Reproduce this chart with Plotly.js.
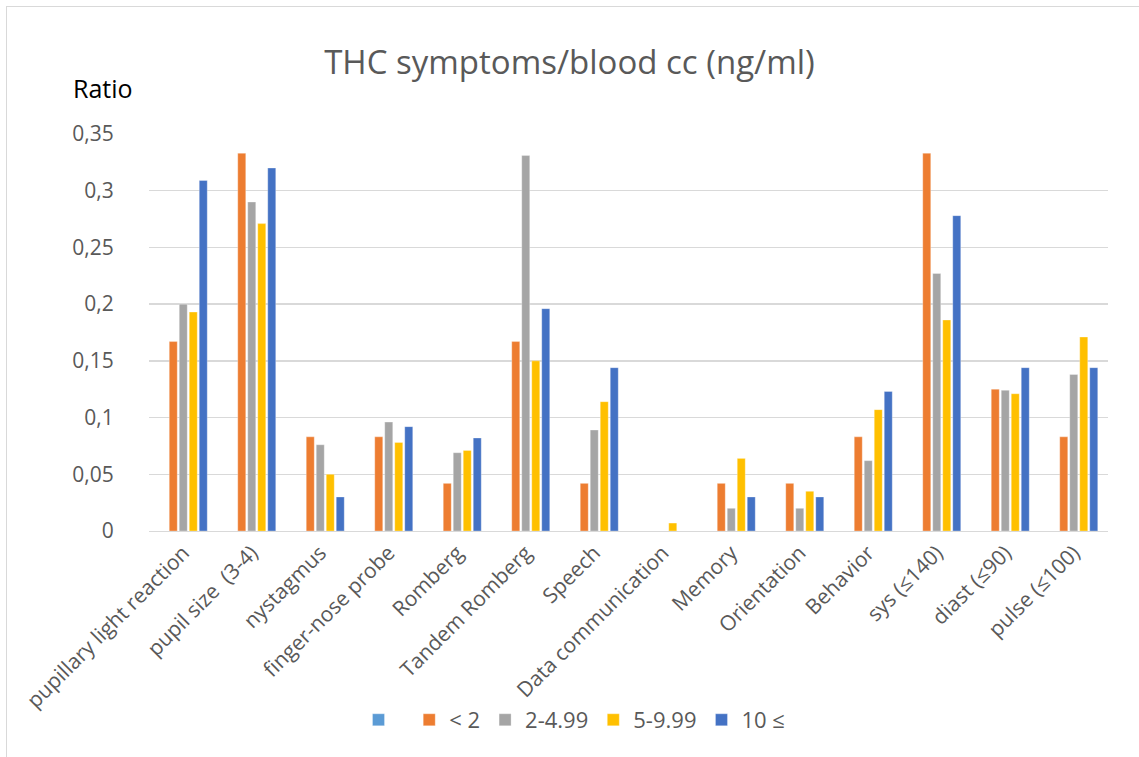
<!DOCTYPE html>
<html>
<head>
<meta charset="utf-8">
<script src="https://cdn.plot.ly/plotly-3.0.1.min.js"></script>
<style>
  html, body { margin: 0; padding: 0; background: #fff; }
  #frame { position: absolute; left: 6px; top: 6px; width: 1140px; height: 760px; border-left: 1px solid #D9D9D9; border-top: 1px solid #D9D9D9; pointer-events: none; }
  #chart { width: 1139px; height: 757px; }
</style>
</head>
<body>
<div id="chart"></div>
<div id="frame"></div>
<script>
const categories = [
  "pupillary light reaction", "pupil size  (3-4)", "nystagmus", "finger-nose probe",
  "Romberg", "Tandem Romberg", "Speech", "Data communication", "Memory",
  "Orientation", "Behavior", "sys (≤140)", "diast (≤90)", "pulse (≤100)"
];
const seriesNames = [" ", "< 2", "2-4.99", "5-9.99", "10 ≤"];
const blankSeries = [null, null, null, null, null, null, null, null, null, null, null, null, null, null];
const lt2 =       [0.167, 0.333, 0.083, 0.083, 0.042, 0.167, 0.042, 0,     0.042, 0.042, 0.083, 0.333, 0.125, 0.083];
const s2to499 =   [0.200, 0.290, 0.076, 0.096, 0.069, 0.331, 0.089, 0,     0.020, 0.020, 0.062, 0.227, 0.124, 0.138];
const s5to999 =   [0.193, 0.271, 0.050, 0.078, 0.071, 0.150, 0.114, 0.007, 0.064, 0.035, 0.107, 0.186, 0.121, 0.171];
const ge10 =      [0.309, 0.320, 0.030, 0.092, 0.082, 0.196, 0.144, 0,     0.030, 0.030, 0.123, 0.278, 0.144, 0.144];
const colors = ["#5B9BD5", "#ED7D31", "#A5A5A5", "#FFC000", "#4472C4"];
const yTitle = "Ratio";
const chartTitle = "THC symptoms/blood cc (ng/ml)";

const allSeries = [blankSeries, lt2, s2to499, s5to999, ge10];
const traces = allSeries.map((vals, i) => ({
  type: "bar",
  name: seriesNames[i],
  x: categories,
  y: vals,
  marker: { color: colors[i], line: { color: "rgba(255,255,255,0.6)", width: 0.5 } },
  hoverinfo: "x+y+name"
}));

const font = "Open Sans, Liberation Sans, sans-serif";
const layout = {
  width: 1139, height: 757,
  margin: { l: 149, r: 31, t: 134, b: 226, pad: 0 },
  paper_bgcolor: "#fff", plot_bgcolor: "#fff",
  separators: ", ",
  barmode: "group",
  bargap: 0.27,
  bargroupgap: 0.2,
  font: { family: font, color: "#595959" },
  title: {
    text: chartTitle,
    font: { family: font, size: 33, color: "#595959" },
    x: 0.5, xanchor: "center",
    y: 1 - 62/757, yanchor: "middle", yref: "container"
  },
  xaxis: {
    type: "category",
    tickangle: -45,
    tickfont: { family: font, size: 21, color: "#595959" },
    showgrid: false,
    showline: true, linecolor: "#D9D9D9", linewidth: 1.3,
    ticks: "", ticklen: 0,
    automargin: false
  },
  yaxis: {
    range: [0, 0.35],
    dtick: 0.05,
    tick0: 0,
    showgrid: true, gridcolor: "#D9D9D9", gridwidth: 1.3,
    zeroline: false,
    tickfont: { family: font, size: 21, color: "#595959" },
    ticks: "outside", ticklen: 30, tickcolor: "rgba(255,255,255,0)",
    automargin: false
  },
  showlegend: true,
  legend: {
    orientation: "h",
    x: 0.5 - 54/959, xanchor: "center",
    y: -(720 - 531) / 397, yanchor: "middle",
    font: { family: font, size: 22, color: "#595959" },
    traceorder: "normal",
    itemwidth: 30
  },
  annotations: [{
    text: yTitle,
    xref: "paper", yref: "paper",
    x: (103 - 149) / 959, y: (531 - 88) / 397.3,
    xanchor: "center", yanchor: "middle",
    showarrow: false,
    font: { family: font, size: 25, color: "#000" }
  }]
};

Plotly.newPlot("chart", traces, layout, { displayModeBar: false, staticPlot: true });
</script>
</body>
</html>
